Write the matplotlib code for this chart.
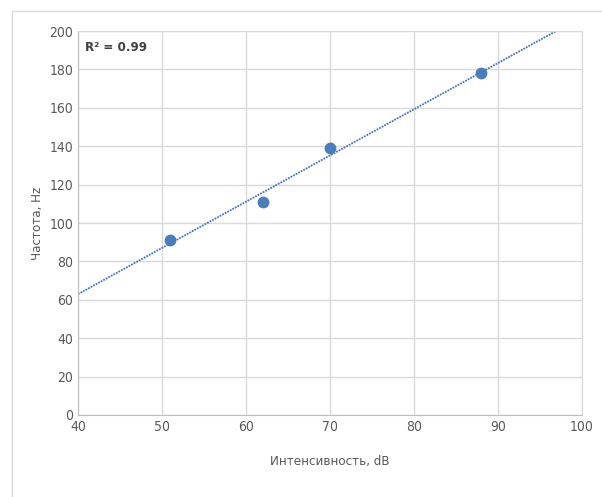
import numpy as np
import matplotlib
matplotlib.use("Agg")
import matplotlib.pyplot as plt
from matplotlib.patches import Rectangle

plt.rcParams['font.family'] = ['DejaVu Sans']
plt.rcParams['font.stretch'] = 'condensed'

# Measurements
intensity_db = [51, 62, 70, 88]
frequency_hz = [91, 111, 139, 178]

x_ticks = [40, 50, 60, 70, 80, 90, 100]
y_ticks = [0, 20, 40, 60, 80, 100, 120, 140, 160, 180, 200]

W, H = 602, 497
fig = plt.figure(figsize=(W / 100, H / 100), dpi=100)

# chart area frame
fig.patches.append(Rectangle((12 / W, -0.05), 1.2, 1 - 11 / H + 0.05,
                             transform=fig.transFigure, fill=False,
                             edgecolor='#d9d9d9', linewidth=1.0))

ax = fig.add_axes([78 / W, 1 - 415 / H, (582 - 78) / W, (415 - 31) / H])

x = np.array(intensity_db, dtype=float)
y = np.array(frequency_hz, dtype=float)
slope, intercept = np.polyfit(x, y, 1)
fit = slope * x + intercept
r2 = 1 - np.sum((y - fit) ** 2) / np.sum((y - y.mean()) ** 2)

# linear trend line across the whole x range
xs = np.array([x_ticks[0], x_ticks[-1]], dtype=float)
ax.plot(xs, slope * xs + intercept, linestyle=(0, (1, 0.6)), color='#4472c4',
        linewidth=1.3, zorder=2)
ax.plot(x, y, 'o', color='#4a7ebb', markersize=7.5, zorder=3)

ax.set_xlim(x_ticks[0], x_ticks[-1])
ax.set_ylim(y_ticks[0], y_ticks[-1])
ax.set_xticks(x_ticks)
ax.set_yticks(y_ticks)
ax.grid(True, color='#d9d9d9', linewidth=1.0)
ax.set_axisbelow(True)
for s in ax.spines.values():
    s.set_color('#d9d9d9')
ax.spines['left'].set_color('#bfbfbf')
ax.spines['bottom'].set_color('#bfbfbf')
ax.tick_params(length=0, labelsize=10, colors='#595959', pad=3.5)

ax.set_xlabel('Интенсивность, dB', fontsize=9.5, color='#595959', labelpad=15)
ax.set_ylabel('Частота, Hz', fontsize=9.5, color='#595959', labelpad=4)

ax.text(7 / 504, 1 - 10 / 384, f'R² = {r2:.2f}', transform=ax.transAxes,
        fontsize=9.5, color='#404040', fontweight='semibold', va='top', ha='left')

fig.savefig('out.png', dpi=100)
